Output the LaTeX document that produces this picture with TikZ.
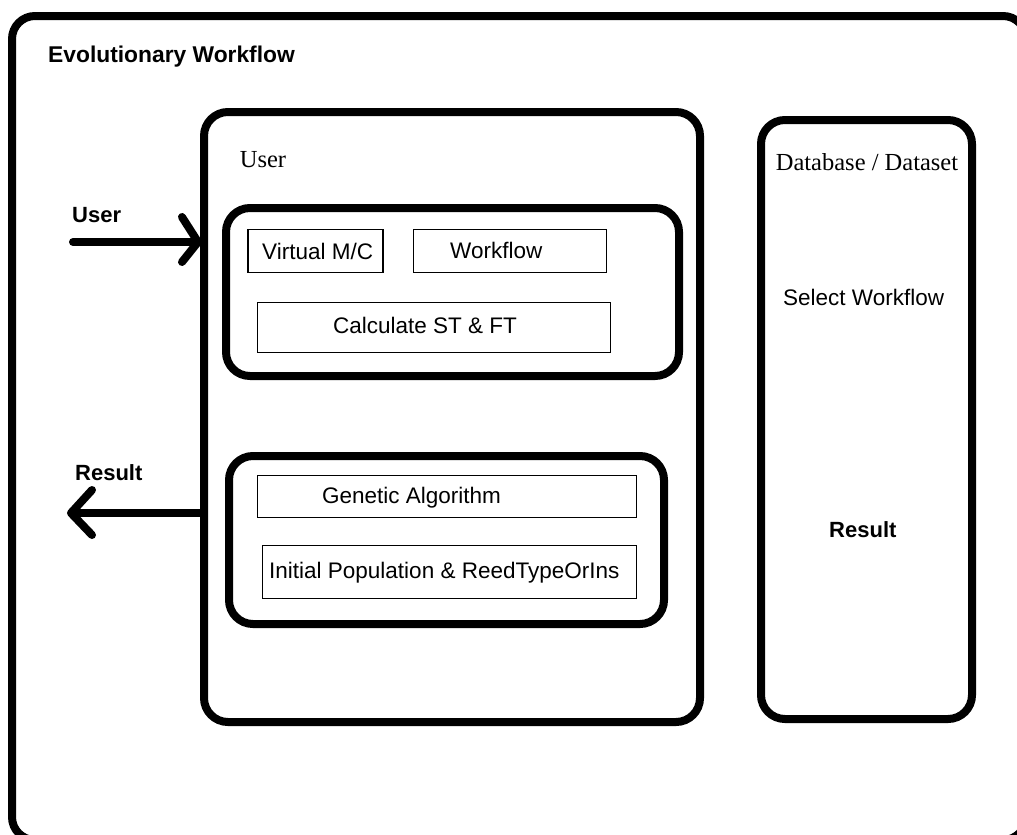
\documentclass[tikz,border=0pt]{standalone}
\usepackage{fontspec}
\setmainfont{Liberation Sans}
\newfontfamily\serifface{Liberation Serif}
\usetikzlibrary{calc}
\begin{document}
\begin{tikzpicture}[x=1pt,y=-1pt,
  bigbox/.style={draw, line width=8pt, rounded corners=24pt, inner sep=0pt},
  smallbox/.style={draw, line width=1.3pt, inner sep=0pt},
  lbl/.style={inner sep=0pt, anchor=base west, font=\fontsize{22.5}{26}\selectfont},
  blbl/.style={inner sep=0pt, anchor=base west, font=\fontsize{22}{26}\selectfont\bfseries},
  slbl/.style={inner sep=0pt, anchor=base, font=\fontsize{24.5}{28}\selectfont\serifface},
  thick arrow/.style={line width=8pt, line cap=round, line join=round}]
\useasboundingbox (0,0) rectangle (1017,835);
\fill[white] (0,0) rectangle (1017,835);
\begin{scope}
\clip (0,0) rectangle (1017,835);
\draw[line width=8pt, rounded corners=23pt] (12,16) rectangle (1026,840);
\end{scope}
\node[inner sep=0pt, anchor=base west, font=\fontsize{22.8}{26}\selectfont\bfseries] (title) at (48,62) {Evolutionary Workflow};

% main boxes
\node[bigbox, minimum width=496pt, minimum height=610pt] (userbox) at (452,417) {};
\node[bigbox, minimum width=211pt, minimum height=599pt] (dbbox) at (866.5,419.5) {};
\node[bigbox, minimum width=453pt, minimum height=168pt] (inner1) at (452.5,292) {};
\node[bigbox, minimum width=435pt, minimum height=168pt] (inner2) at (446.5,540) {};

% small boxes
\node[smallbox, minimum width=135pt, minimum height=43pt] (vm) at (315.5,251) {};
\node[smallbox, minimum width=193pt, minimum height=43pt] (wf) at (510,251) {};
\node[smallbox, minimum width=353pt, minimum height=50pt] (calc) at (434,327.5) {};
\node[smallbox, minimum width=379pt, minimum height=42pt] (ga) at (447,496.5) {};
\node[smallbox, minimum width=374pt, minimum height=53pt] (ip) at (449.5,572) {};

% texts
\node[slbl] (usertitle) at (263,167) {User};
\node[slbl] (dbtitle) at (867,170) {Database / Dataset};
\node[lbl] (vmt) at (262,259) {Virtual M/C};
\node[lbl] (wft) at (450,258) {Workflow};
\node[lbl] (calct) at (333,333) {Calculate ST \& FT};
\node[lbl] (gat) at (322,503) {Genetic Algorithm};
\node[lbl] (ipt) at (269,578) {Initial Population \& ReedTypeOrIns};
\node[lbl] (selwf) at (783,305) {Select Workflow};
\node[blbl] (dbres) at (829,537) {Result};
\node[blbl] (userlbl) at (72,222) {User};
\node[blbl] (reslbl) at (75,480) {Result};

% arrows
\coordinate (uin) at (73,242);
\coordinate (utip) at (198,242);
\draw[thick arrow] (uin) -- (utip);
\draw[thick arrow] ($(utip)+(-16,-25)$) -- (utip) -- ($(utip)+(-16,20)$);

\coordinate (rstart) at (207,513);
\coordinate (rtip) at (71,513);
\draw[line width=8pt] (rstart) -- (rtip);
\draw[thick arrow] ($(rtip)+(21,-23)$) -- (rtip) -- ($(rtip)+(21,22)$);
\end{tikzpicture}
\end{document}
